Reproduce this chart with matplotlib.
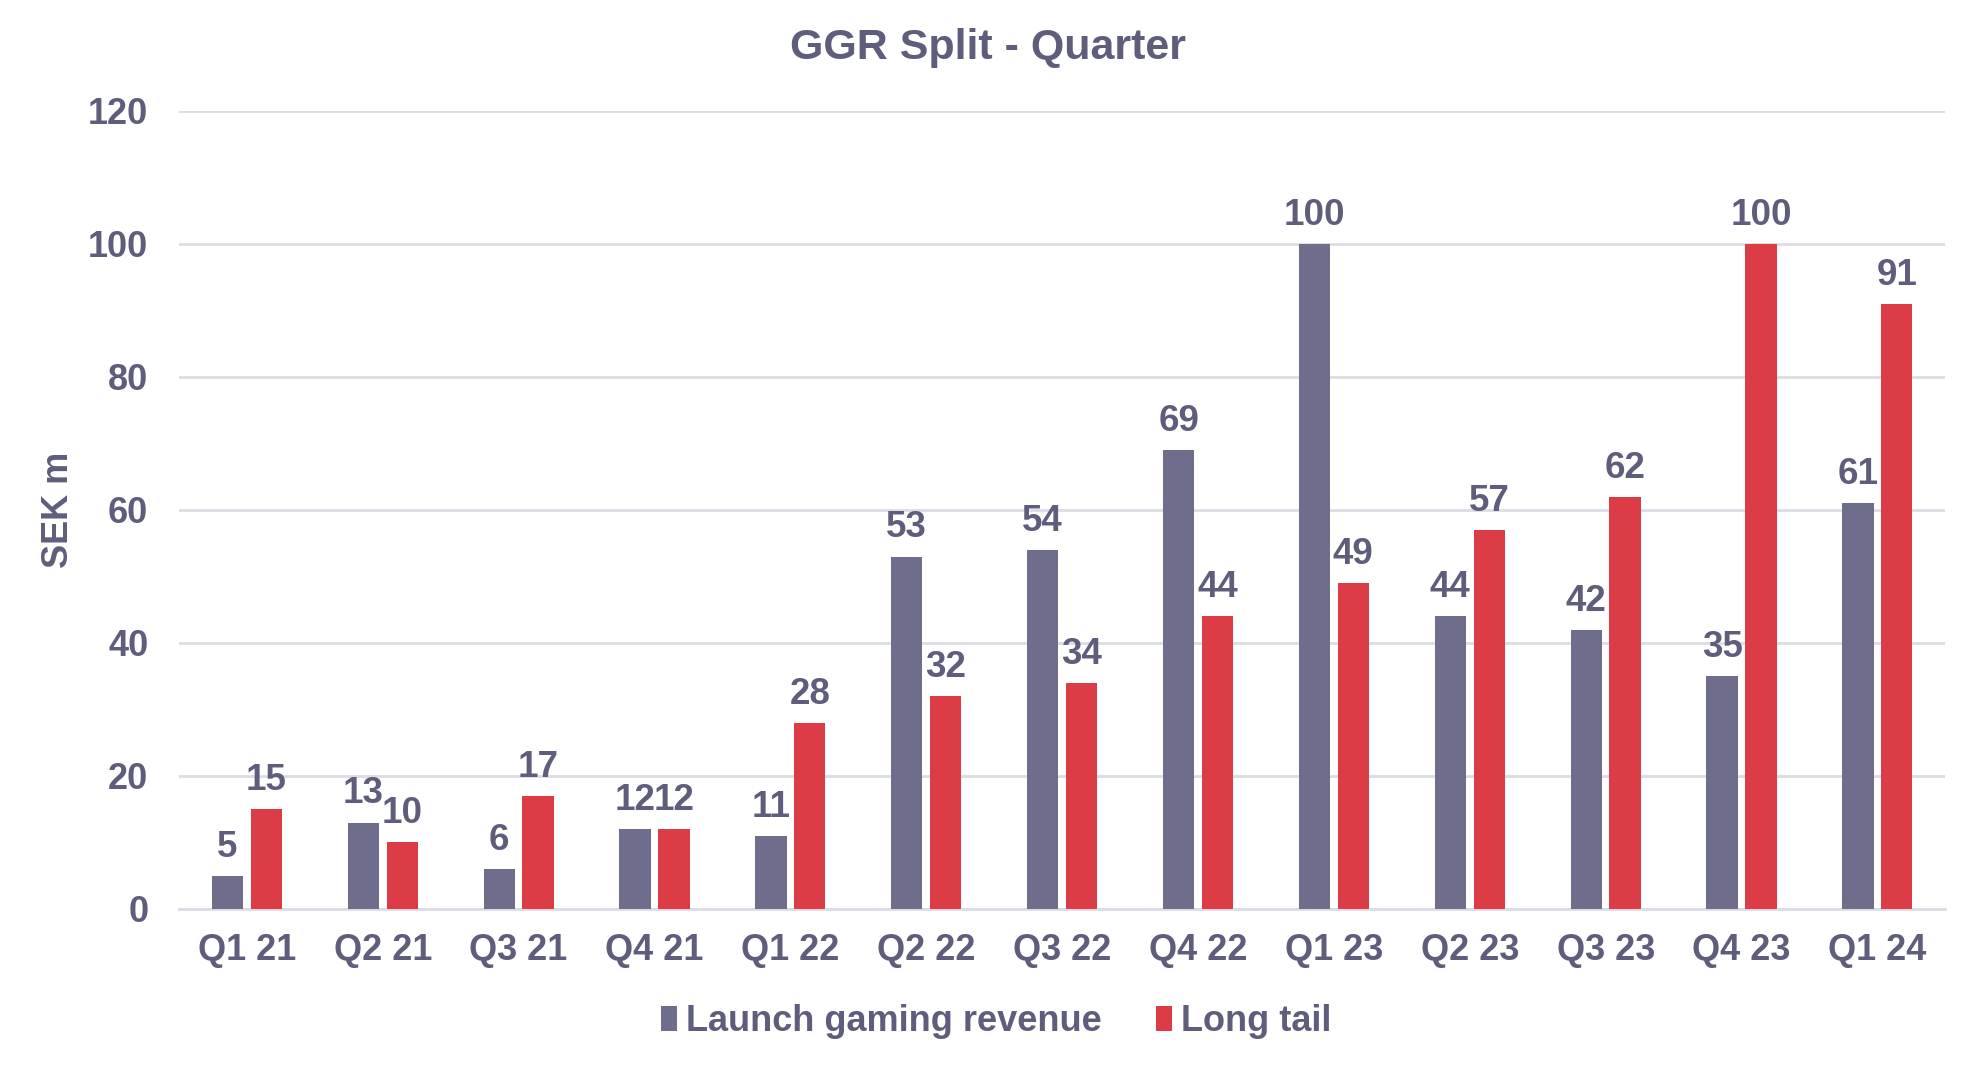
import numpy as np
import matplotlib.pyplot as plt

quarters = ["Q1 21", "Q2 21", "Q3 21", "Q4 21", "Q1 22", "Q2 22", "Q3 22",
            "Q4 22", "Q1 23", "Q2 23", "Q3 23", "Q4 23", "Q1 24"]
launch = [5, 13, 6, 12, 11, 53, 54, 69, 100, 44, 42, 35, 61]
long_tail = [15, 10, 17, 12, 28, 32, 34, 44, 49, 57, 62, 100, 91]

TEXT = "#5e5e7c"
C_LAUNCH = "#6e6e8c"
C_TAIL = "#dc3c46"

plt.rcParams['font.family'] = ['Liberation Sans', 'DejaVu Sans']
plt.rcParams['font.weight'] = 'bold'


def main():
    fig = plt.figure(figsize=(19.77, 10.65), dpi=100)
    ax = fig.add_axes([0.0905, 0.1465, 0.8935, 0.7493])

    x = np.arange(len(quarters))
    w = 0.23
    off = 0.143
    b1 = ax.bar(x - off, launch, w, color=C_LAUNCH, label="Launch gaming revenue", zorder=3)
    b2 = ax.bar(x + off, long_tail, w, color=C_TAIL, label="Long tail", zorder=3)
    ax.bar_label(b1, padding=8, fontsize=26.5, color=TEXT, fontweight='bold')
    ax.bar_label(b2, padding=8, fontsize=26.5, color=TEXT, fontweight='bold')

    ax.set_xlim(-0.5, len(quarters) - 0.5)
    ax.set_ylim(0, 120)
    ax.set_yticks(range(0, 121, 20))
    ax.set_xticks(x)
    ax.set_xticklabels(quarters)
    ax.tick_params(axis='both', length=0, labelsize=26, labelcolor=TEXT)
    ax.tick_params(axis='x', pad=17)
    ax.tick_params(axis='y', pad=22)
    ax.grid(axis='y', color="#dcdce4", linewidth=2, zorder=0)
    for s in ['top', 'right', 'left']:
        ax.spines[s].set_visible(False)
    ax.spines['bottom'].set_color("#dcdce4")
    ax.spines['bottom'].set_linewidth(2)

    ax.set_ylabel("SEK m", fontsize=26, color=TEXT, fontweight='bold')
    ax.yaxis.set_label_coords(-0.058, 0.5)
    fig.text(0.5, 0.955, "GGR Split - Quarter", ha='center', va='center',
             fontsize=31, color=TEXT, fontweight='bold')

    leg = fig.legend(loc='center', bbox_to_anchor=(0.504, 0.041), ncol=2,
                     frameon=False, fontsize=26, handlelength=0.45,
                     handleheight=0.7, handletextpad=0.25, columnspacing=1.5)
    for t in leg.get_texts():
        t.set_color(TEXT)

    fig.savefig("out.png", dpi=100)


if __name__ == '__main__':
    main()
